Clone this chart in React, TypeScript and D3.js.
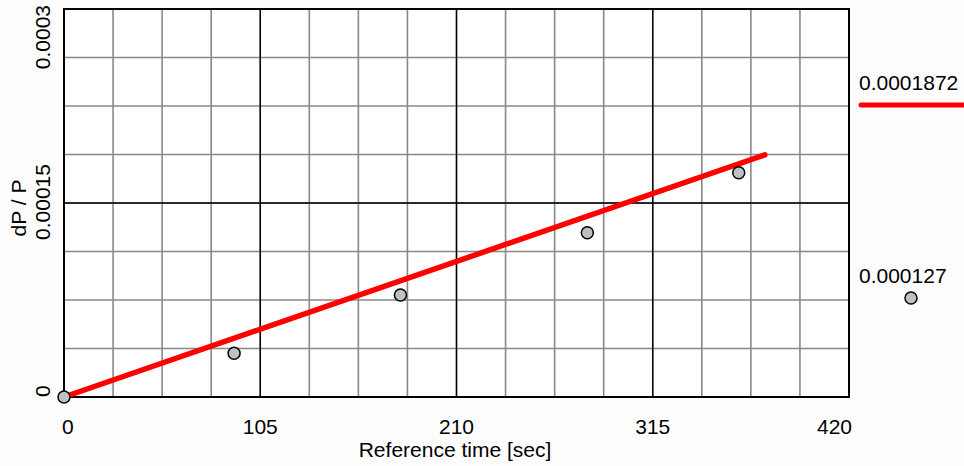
import React from "react";
import * as d3 from "d3";

// Measured points: reference time (s) vs relative pressure change
const timeSec = [0, 91, 180, 280, 361];
const dpOverP = [0, 0.0000338, 0.0000789, 0.000127, 0.0001734];

// Linear fit drawn through the measurements
const fitTime = [0, 375];
const fitValue = [0, 0.0001872];

// Axis ticks
const xMajorTicks = [0, 105, 210, 315, 420];
const yMajorTicks = [0, 0.00015, 0.0003];
const yTickLabels = ["0", "0.00015", "0.0003"];

// Legend entries
const legendLineLabel = "0.0001872";
const legendPointLabel = "0.000127";

const W = 964;
const H = 466;
const FONT = "'Liberation Sans', Arial, sans-serif";
const FS = 21;

export default function App() {
  const left = 64;
  const right = 849;
  const top = 9;
  const bottom = 397;

  const x = d3.scaleLinear().domain([0, 420]).range([left, right]);
  const y = d3.scaleLinear().domain([0, 0.0003]).range([bottom, top]);

  const xMinor = d3.range(0, 420 + 1e-9, 105 / 4);
  const yMinor = d3.range(0, 0.0003 + 1e-12, 0.0003 / 8);

  const fitLine = d3
    .line<number>()
    .x((_, i) => x(fitTime[i]))
    .y((v) => y(v))(fitValue);

  return (
    <svg
      width={W}
      height={H}
      style={{ position: "absolute", left: 0, top: 0, background: "#fdfdfd" }}
      fontFamily={FONT}
    >
      <rect x={left} y={top} width={right - left} height={bottom - top} fill="#ffffff" />

      {/* minor grid */}
      {xMinor.map((t, i) => (
        <line key={"xm" + i} x1={x(t)} x2={x(t)} y1={top} y2={bottom} stroke="#888" strokeWidth={1.6} />
      ))}
      {yMinor.map((t, i) => (
        <line key={"ym" + i} x1={left} x2={right} y1={y(t)} y2={y(t)} stroke="#888" strokeWidth={1.6} />
      ))}

      {/* major grid */}
      {xMajorTicks.map((t, i) => (
        <line key={"xM" + i} x1={x(t)} x2={x(t)} y1={top} y2={bottom} stroke="#000" strokeWidth={1.4} />
      ))}
      {yMajorTicks.map((t, i) => (
        <line key={"yM" + i} x1={left} x2={right} y1={y(t)} y2={y(t)} stroke="#000" strokeWidth={1.4} />
      ))}

      <rect x={left} y={top} width={right - left} height={bottom - top} fill="none" stroke="#000" strokeWidth={2} />

      {/* fit line */}
      <path d={fitLine ?? ""} fill="none" stroke="#ff0000" strokeWidth={5.5} strokeLinecap="round" />

      {/* data points */}
      {timeSec.map((t, i) => (
        <circle key={"p" + i} cx={x(t)} cy={y(dpOverP[i])} r={6} fill="#c0c0c0" stroke="#000" strokeWidth={1.5} />
      ))}

      {/* x tick labels */}
      {xMajorTicks.map((t, i) => (
        <text
          key={"xl" + i}
          x={i === 0 ? x(t) - 2 : i === xMajorTicks.length - 1 ? x(t) + 3 : x(t)}
          y={434}
          fontSize={FS}
          textAnchor={i === 0 ? "start" : i === xMajorTicks.length - 1 ? "end" : "middle"}
          fill="#000"
        >
          {t}
        </text>
      ))}
      <text x={455} y={457} fontSize={FS} textAnchor="middle" fill="#000">
        Reference time [sec]
      </text>

      {/* y tick labels */}
      {yMajorTicks.map((t, i) => {
        const anchor = i === 0 ? "start" : i === yMajorTicks.length - 1 ? "end" : "middle";
        const yy = i === 0 ? y(t) : i === yMajorTicks.length - 1 ? y(t) - 4 : y(t) - 1;
        return (
          <text
            key={"yl" + i}
            transform={`translate(50,${yy}) rotate(-90)`}
            fontSize={FS}
            textAnchor={anchor}
            fill="#000"
          >
            {yTickLabels[i]}
          </text>
        );
      })}
      <text transform={`translate(26,${208}) rotate(-90)`} fontSize={FS} textAnchor="middle" fill="#000">
        dP / P
      </text>

      {/* legend */}
      <text x={859} y={90} fontSize={FS} fill="#000">
        {legendLineLabel}
      </text>
      <line x1={861} x2={966} y1={105} y2={105} stroke="#ff0000" strokeWidth={5} strokeLinecap="round" />
      <text x={859} y={283} fontSize={FS} fill="#000">
        {legendPointLabel}
      </text>
      <circle cx={911} cy={298} r={6} fill="#c0c0c0" stroke="#000" strokeWidth={1.5} />
    </svg>
  );
}
